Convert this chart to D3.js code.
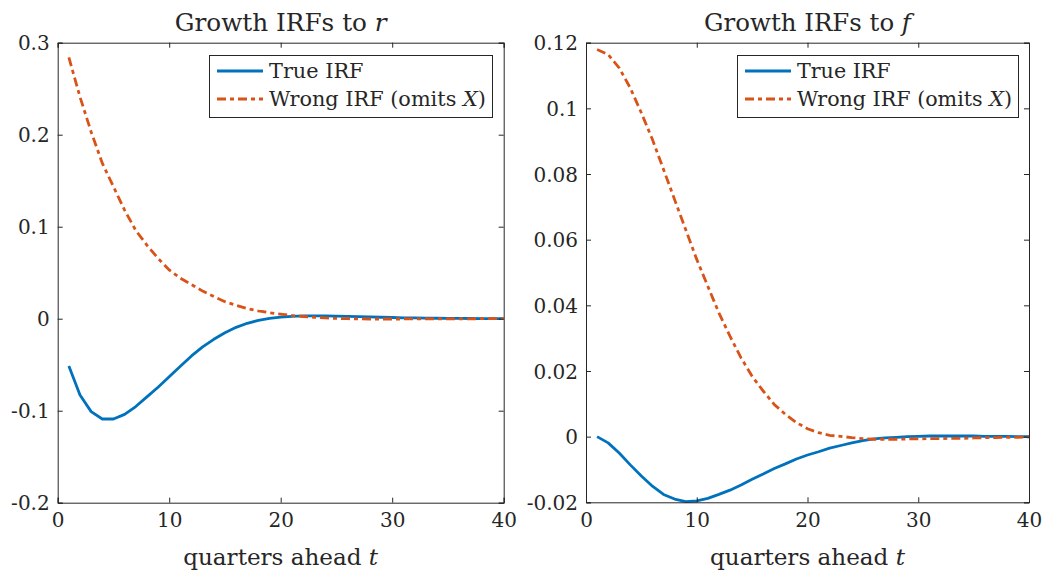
<!DOCTYPE html>
<html>
<head>
<meta charset="utf-8">
<script src="https://cdn.jsdelivr.net/npm/d3@7"></script>
<style>
  html, body { margin: 0; padding: 0; background: #fff; }
  svg { display: block; }
</style>
</head>
<body>
<svg id="chart" width="1047" height="571"></svg>
<script>
// ---------- data ----------
const quarters = d3.range(1, 41);

const trueR = [-0.0514, -0.083, -0.101, -0.109, -0.109, -0.104, -0.0955, -0.085, -0.0745, -0.063,
  -0.0517, -0.0405, -0.0307, -0.0224, -0.0152, -0.0094, -0.005, -0.0018, 0.0003, 0.0017,
  0.0025, 0.003, 0.0031, 0.003, 0.0028, 0.0025, 0.0022, 0.0019, 0.0016, 0.0013,
  0.001, 0.0008, 0.0006, 0.0005, 0.0004, 0.0003, 0.0002, 0.0001, 0.0001, 0.0];

const wrongR = [0.284, 0.241, 0.203, 0.169, 0.1435, 0.118, 0.096, 0.080, 0.0656, 0.053,
  0.044, 0.037, 0.030, 0.024, 0.0185, 0.0146, 0.011, 0.0084, 0.0065, 0.005,
  0.0035, 0.0024, 0.0015, 0.0008, 0.0003, 0.0, -0.0002, -0.0003, -0.0003, -0.0003,
  -0.0003, -0.0002, -0.0002, -0.0002, -0.0001, -0.0001, -0.0001, 0.0, 0.0, 0.0];

const trueF = [0.0, -0.0019, -0.005, -0.0086, -0.012, -0.0151, -0.0176, -0.019, -0.0198, -0.0196,
  -0.0188, -0.0176, -0.0163, -0.0147, -0.013, -0.0114, -0.0097, -0.0083, -0.0068, -0.0056,
  -0.0046, -0.0035, -0.0027, -0.0019, -0.0012, -0.0007, -0.0004, -0.0002, 0.0, 0.0001,
  0.0002, 0.0002, 0.0002, 0.0002, 0.0002, 0.0001, 0.0001, 0.0001, 0.0, 0.0];

const wrongF = [0.1179, 0.1164, 0.1123, 0.1062, 0.0986, 0.0905, 0.0814, 0.0722, 0.0631, 0.054,
  0.0458, 0.0377, 0.0306, 0.024, 0.0184, 0.0139, 0.0098, 0.0068, 0.0043, 0.0024,
  0.0012, 0.0004, 0.0001, -0.0003, -0.0006, -0.0008, -0.0008, -0.0008, -0.0007, -0.0007,
  -0.0006, -0.0006, -0.0005, -0.0005, -0.0004, -0.0003, -0.0003, -0.0002, -0.0002, -0.0001];

const xTicks = [0, 10, 20, 30, 40];
const yTicksR = [-0.2, -0.1, 0, 0.1, 0.2, 0.3];
const yTickLabelsR = ["-0.2", "-0.1", "0", "0.1", "0.2", "0.3"];
const yTicksF = [-0.02, 0, 0.02, 0.04, 0.06, 0.08, 0.1, 0.12];
const yTickLabelsF = ["-0.02", "0", "0.02", "0.04", "0.06", "0.08", "0.1", "0.12"];

const seriesNames = ["True IRF", "Wrong IRF (omits "];
const titleText = "Growth IRFs to ";
const xLabelText = "quarters ahead ";

// ---------- style ----------
const BLUE = "#0072BD", ORANGE = "#D95319", AX = "#262626";
const LW = 2.8;
const DASH = "9,4,4,4";
const FONT = "'DejaVu Serif'";

const svg = d3.select("#chart");

// scale font size so that a text's width matches a target width
function fitText(sel, target) {
  const w = sel.node().getComputedTextLength();
  const fs = parseFloat(sel.attr("font-size"));
  const nfs = fs * target / w;
  sel.attr("font-size", nfs);
  return nfs;
}

const panels = [
  { left: 57.7, right: 503.7, top: 42.7, bottom: 502.7, yDomain: [-0.2, 0.3],
    yTicks: yTicksR, yLabels: yTickLabelsR, trueV: trueR, wrongV: wrongR, sym: "r",
    legend: { x: 209, y: 55, w: 283, h: 62 } },
  { left: 586, right: 1029, top: 42.7, bottom: 502.3, yDomain: [-0.02, 0.12],
    yTicks: yTicksF, yLabels: yTickLabelsF, trueV: trueF, wrongV: wrongF, sym: "f",
    legend: { x: 737, y: 55, w: 281, h: 62 } }
];

panels.forEach((p, pi) => {
  const x = d3.scaleLinear().domain([0, 40]).range([p.left, p.right]);
  const y = d3.scaleLinear().domain(p.yDomain).range([p.bottom, p.top]);
  const g = svg.append("g");

  const clipId = "clip" + pi;
  svg.append("clipPath").attr("id", clipId).append("rect")
    .attr("x", p.left).attr("y", p.top - 1).attr("width", p.right - p.left).attr("height", p.bottom - p.top + 2);

  const line = vals => d3.line().x((d, i) => x(quarters[i])).y(d => y(d))(vals);
  g.append("path").attr("d", line(p.trueV)).attr("fill", "none")
    .attr("stroke", BLUE).attr("stroke-width", LW).attr("stroke-linejoin", "round")
    .attr("clip-path", `url(#${clipId})`);
  g.append("path").attr("d", line(p.wrongV)).attr("fill", "none")
    .attr("stroke", ORANGE).attr("stroke-width", LW).attr("stroke-dasharray", DASH)
    .attr("clip-path", `url(#${clipId})`);

  const TL = 5;
  const bottomAx = g.append("g").attr("transform", `translate(0,${p.bottom})`)
    .call(d3.axisBottom(x).tickValues(xTicks).tickSize(-TL).tickPadding(10).tickFormat(d3.format("d")));
  const topAx = g.append("g").attr("transform", `translate(0,${p.top})`)
    .call(d3.axisTop(x).tickValues(xTicks).tickSize(-TL).tickFormat(""));
  const leftAx = g.append("g").attr("transform", `translate(${p.left},0)`)
    .call(d3.axisLeft(y).tickValues(p.yTicks).tickSize(-TL).tickPadding(8)
      .tickFormat((d, i) => p.yLabels[i]));
  const rightAx = g.append("g").attr("transform", `translate(${p.right},0)`)
    .call(d3.axisRight(y).tickValues(p.yTicks).tickSize(-TL).tickFormat(""));
  [bottomAx, topAx, leftAx, rightAx].forEach(a => {
    a.select(".domain").attr("stroke", AX).attr("stroke-width", 1);
    a.selectAll(".tick line").attr("stroke", AX).attr("stroke-width", 1);
    a.selectAll("text").style("font-family", FONT).attr("font-size", 20).attr("fill", AX);
  });
  bottomAx.selectAll("text").attr("dy", "0.74em");
  leftAx.selectAll("text").attr("dy", "0.36em");

  const t = svg.append("text").attr("x", (p.left + p.right) / 2).attr("y", 31)
    .attr("text-anchor", "middle").attr("font-size", 25).attr("fill", AX).style("font-family", FONT);
  t.append("tspan").text(titleText);
  t.append("tspan").attr("font-style", "italic").text(p.sym);
  fitText(t, pi === 0 ? 212 : 207);

  const xl = svg.append("text").attr("x", (p.left + p.right) / 2).attr("y", 565)
    .attr("text-anchor", "middle").attr("font-size", 25).attr("fill", AX).style("font-family", FONT);
  xl.append("tspan").text(xLabelText);
  xl.append("tspan").attr("font-style", "italic").text("t");
  fitText(xl, 195);

  const L = p.legend;
  const lg = svg.append("g");
  lg.append("rect").attr("x", L.x + 0.5).attr("y", L.y + 0.5).attr("width", L.w).attr("height", L.h)
    .attr("fill", "#fff").attr("stroke", AX).attr("stroke-width", 1);
  const rows = [
    { color: BLUE, dash: null, y: L.y + 16 },
    { color: ORANGE, dash: DASH, y: L.y + 44 }
  ];
  const texts = [];
  rows.forEach((r, i) => {
    lg.append("line").attr("x1", L.x + 8).attr("x2", L.x + 54).attr("y1", r.y).attr("y2", r.y)
      .attr("stroke", r.color).attr("stroke-width", LW).attr("stroke-dasharray", r.dash);
    const tx = lg.append("text").attr("x", L.x + 60).attr("y", r.y + 7).attr("font-size", 20)
      .attr("fill", AX).style("font-family", FONT);
    tx.append("tspan").text(seriesNames[i]);
    if (i === 1) {
      tx.append("tspan").attr("font-style", "italic").text("X");
      tx.append("tspan").text(")");
    }
    texts.push(tx);
  });
  const lfs = fitText(texts[1], L.w - 66);
  texts[0].attr("font-size", lfs);
});
</script>
</body>
</html>
